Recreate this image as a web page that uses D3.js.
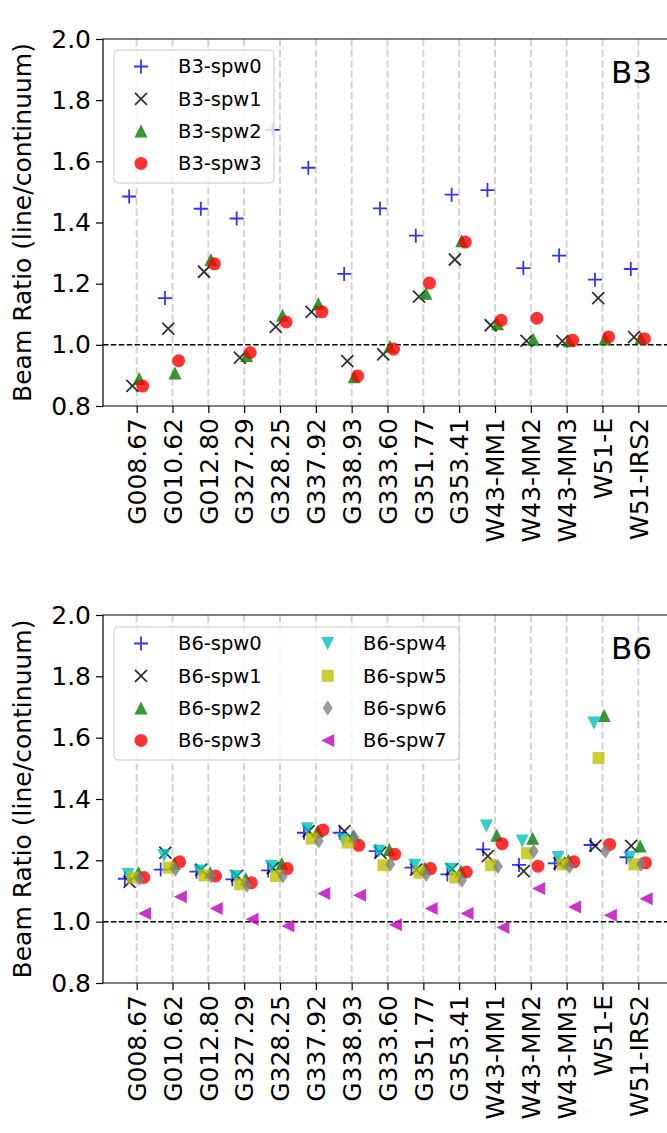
<!DOCTYPE html>
<html>
<head>
<meta charset="utf-8">
<script src="https://cdn.jsdelivr.net/npm/d3@7"></script>
<style>
  html, body { margin: 0; padding: 0; background: #fff; }
  svg { display: block; font-family: "DejaVu Sans", sans-serif; }
</style>
</head>
<body>
<svg id="chart" width="667" height="1133"></svg>
<script>
const categories = ["G008.67","G010.62","G012.80","G327.29","G328.25","G337.92","G338.93","G333.60","G351.77","G353.41","W43-MM1","W43-MM2","W43-MM3","W51-E","W51-IRS2"];
const yTicks = [0.8, 1.0, 1.2, 1.4, 1.6, 1.8, 2.0];

// B3 panel
const b3spw0 = [1.485, 1.153, 1.445, 1.413, 1.703, 1.579, 1.232, 1.446, 1.357, 1.491, 1.506, 1.251, 1.292, 1.213, 1.248];
const b3spw1 = [0.866, 1.053, 1.239, 0.958, 1.059, 1.108, 0.947, 0.969, 1.158, 1.279, 1.064, 1.013, 1.012, 1.153, 1.025];
const b3spw2 = [0.89, 0.908, 1.279, 0.965, 1.097, 1.135, 0.896, 0.995, 1.169, 1.34, 1.069, 1.018, 1.013, 1.02, 1.022];
const b3spw3 = [0.865, 0.948, 1.265, 0.975, 1.075, 1.108, 0.898, 0.986, 1.202, 1.336, 1.08, 1.087, 1.015, 1.026, 1.02];

// B6 panel
const b6spw0 = [1.14, 1.17, 1.163, 1.138, 1.167, 1.29, 1.29, 1.23, 1.176, 1.154, 1.236, 1.185, 1.19, 1.25, 1.21];
const b6spw1 = [1.13, 1.225, 1.17, 1.149, 1.175, 1.295, 1.295, 1.225, 1.17, 1.171, 1.214, 1.165, 1.19, 1.247, 1.247];
const b6spw2 = [1.16, 1.19, 1.16, 1.14, 1.19, 1.295, 1.28, 1.235, 1.175, 1.165, 1.282, 1.272, 1.2, 1.672, 1.247];
const b6spw3 = [1.144, 1.195, 1.149, 1.127, 1.173, 1.299, 1.249, 1.22, 1.173, 1.162, 1.254, 1.181, 1.195, 1.252, 1.192];
const b6spw4 = [1.154, 1.216, 1.165, 1.147, 1.181, 1.303, 1.268, 1.23, 1.184, 1.171, 1.312, 1.263, 1.209, 1.648, 1.209];
const b6spw5 = [1.144, 1.176, 1.151, 1.122, 1.149, 1.271, 1.258, 1.184, 1.16, 1.144, 1.184, 1.223, 1.187, 1.534, 1.187];
const b6spw6 = [1.141, 1.171, 1.149, 1.119, 1.149, 1.263, 1.274, 1.187, 1.154, 1.135, 1.18, 1.23, 1.18, 1.23, 1.187];
const b6spw7 = [1.027, 1.081, 1.043, 1.008, 0.986, 1.092, 1.086, 0.99, 1.043, 1.027, 0.981, 1.108, 1.048, 1.021, 1.075];

// ---- marker shapes (d3 symbol types) ----
const symPlus = { draw(c, s) { const r = 7; c.moveTo(-r, 0); c.lineTo(r, 0); c.moveTo(0, -r); c.lineTo(0, r); } };
const symX = { draw(c, s) { const r = 6; c.moveTo(-r, -r); c.lineTo(r, r); c.moveTo(-r, r); c.lineTo(r, -r); } };
const symTriUp = { draw(c, s) { const r = 6.5; c.moveTo(0, -r); c.lineTo(r, r); c.lineTo(-r, r); c.closePath(); } };
const symTriDown = { draw(c, s) { const r = 6.5; c.moveTo(0, r); c.lineTo(r, -r); c.lineTo(-r, -r); c.closePath(); } };
const symTriLeft = { draw(c, s) { const r = 6.5; c.moveTo(-r, 0); c.lineTo(r, -r); c.lineTo(r, r); c.closePath(); } };
const symCircle = { draw(c, s) { const r = 6.5; c.moveTo(r, 0); c.arc(0, 0, r, 0, 2 * Math.PI); } };
const symSquare = { draw(c, s) { const r = 6; c.rect(-r, -r, 2 * r, 2 * r); } };
const symThinDiamond = { draw(c, s) { const h = 7.5, w = 5; c.moveTo(0, -h); c.lineTo(w, 0); c.lineTo(0, h); c.lineTo(-w, 0); c.closePath(); } };

const panels = [
  {
    top: 39, bottom: 406, tag: "B3",
    series: [
      { name: "B3-spw0", values: b3spw0, sym: symPlus, color: "#0000ff", line: true, off: -0.21 },
      { name: "B3-spw1", values: b3spw1, sym: symX, color: "#000000", line: true, off: -0.12 },
      { name: "B3-spw2", values: b3spw2, sym: symTriUp, color: "#008000", line: false, off: 0.07 },
      { name: "B3-spw3", values: b3spw3, sym: symCircle, color: "#ff0000", line: false, off: 0.17 }
    ],
    legend: { x: 114, y: 50, w: 160, h: 133, cols: 1 }
  },
  {
    top: 615, bottom: 983, tag: "B6",
    series: [
      { name: "B6-spw0", values: b6spw0, sym: symPlus, color: "#0000ff", line: true, off: -0.33 },
      { name: "B6-spw1", values: b6spw1, sym: symX, color: "#000000", line: true, off: -0.2 },
      { name: "B6-spw2", values: b6spw2, sym: symTriUp, color: "#008000", line: false, off: 0.05 },
      { name: "B6-spw3", values: b6spw3, sym: symCircle, color: "#ff0000", line: false, off: 0.2 },
      { name: "B6-spw4", values: b6spw4, sym: symTriDown, color: "#00bfbf", line: false, off: -0.24 },
      { name: "B6-spw5", values: b6spw5, sym: symSquare, color: "#bfbf00", line: false, off: -0.11 },
      { name: "B6-spw6", values: b6spw6, sym: symThinDiamond, color: "#808080", line: false, off: 0.08 },
      { name: "B6-spw7", values: b6spw7, sym: symTriLeft, color: "#bf00bf", line: false, off: 0.22 }
    ],
    legend: { x: 114, y: 627, w: 345, h: 133, cols: 2 }
  }
];

const svg = d3.select("#chart");
const left = 103, right = 672;
const ALPHA = 0.8;

function drawMarker(g, sym, color, isLine) {
  const p = g.append("path").attr("d", d3.symbol().type(sym)());
  if (isLine) p.attr("fill", "none").attr("stroke", color).attr("stroke-width", 1.8).attr("stroke-opacity", ALPHA);
  else p.attr("fill", color).attr("fill-opacity", ALPHA).attr("stroke", "none");
  return p;
}

panels.forEach(P => {
  const x = d3.scalePoint().domain(categories).range([left, right]).padding(0.94);
  const y = d3.scaleLinear().domain([0.8, 2.0]).range([P.bottom, P.top]);
  const g = svg.append("g");

  // vertical dashed guides
  g.selectAll("line.vg").data(categories).join("line")
    .attr("x1", d => x(d)).attr("x2", d => x(d))
    .attr("y1", P.top).attr("y2", P.bottom)
    .attr("stroke", "#d3d3d3").attr("stroke-width", 2).attr("stroke-dasharray", "7.4,3.2");

  // unity line
  g.append("line").attr("x1", left).attr("x2", 667).attr("y1", y(1.0)).attr("y2", y(1.0))
    .attr("stroke", "#000").attr("stroke-width", 1.5).attr("stroke-dasharray", "5.5,2.4");

  // points
  P.series.forEach(s => {
    const sg = g.append("g");
    s.values.forEach((v, i) => {
      const cx = x(categories[i]) + s.off * x.step();
      drawMarker(sg, s.sym, s.color, s.line).attr("transform", `translate(${cx},${y(v)})`);
    });
  });

  // axes
  const ya = g.append("g").attr("transform", `translate(${left},0)`)
    .call(d3.axisLeft(y).tickValues(yTicks).tickFormat(d3.format(".1f")).tickSize(7).tickPadding(5).tickSizeOuter(0));
  ya.select(".domain").remove();
  ya.selectAll("text").attr("font-size", 25).attr("font-family", "DejaVu Sans").attr("fill", "#000");
  ya.selectAll("line").attr("stroke-width", 1.2);

  const xa = g.append("g").attr("transform", `translate(0,${P.bottom})`)
    .call(d3.axisBottom(x).tickSize(7).tickPadding(5).tickSizeOuter(0));
  xa.select(".domain").remove();
  xa.selectAll("line").attr("stroke-width", 1.2);
  xa.selectAll("text")
    .attr("font-size", 25).attr("font-family", "DejaVu Sans").attr("fill", "#000")
    .attr("transform", "rotate(-90)")
    .attr("text-anchor", "end")
    .attr("x", -12).attr("y", 0).attr("dy", "0.35em");

  // frame (top, left, bottom spines)
  g.append("path")
    .attr("d", `M667,${P.top}H${left}V${P.bottom}H667`)
    .attr("fill", "none").attr("stroke", "#000").attr("stroke-width", 1.2);

  // y label
  g.append("text")
    .attr("transform", `translate(31,${(P.top + P.bottom) / 2}) rotate(-90)`)
    .attr("text-anchor", "middle")
    .attr("font-size", 25).attr("fill", "#000")
    .text("Beam Ratio (line/continuum)");

  // panel tag
  g.append("text").attr("x", 652).attr("y", P.top + 44)
    .attr("text-anchor", "end").attr("font-size", 31).attr("fill", "#000").text(P.tag);

  // legend
  const L = P.legend;
  const lg = g.append("g");
  lg.append("rect").attr("x", L.x).attr("y", L.y).attr("width", L.w).attr("height", L.h)
    .attr("rx", 4).attr("fill", "#fff").attr("fill-opacity", 0.8)
    .attr("stroke", "#cccccc").attr("stroke-width", 1);
  const colX = [{ m: 141, t: 178 }, { m: 327.7, t: 363 }];
  P.series.forEach((s, i) => {
    const col = Math.floor(i / 4), row = i % 4;
    const ry = L.y + 16.5 + row * 32.3;
    drawMarker(lg, s.sym, s.color, s.line).attr("transform", `translate(${colX[col].m},${ry})`);
    lg.append("text").attr("x", colX[col].t).attr("y", ry).attr("dy", "0.35em")
      .attr("font-size", 19.5).attr("fill", "#000").text(s.name);
  });
});
</script>
</body>
</html>
